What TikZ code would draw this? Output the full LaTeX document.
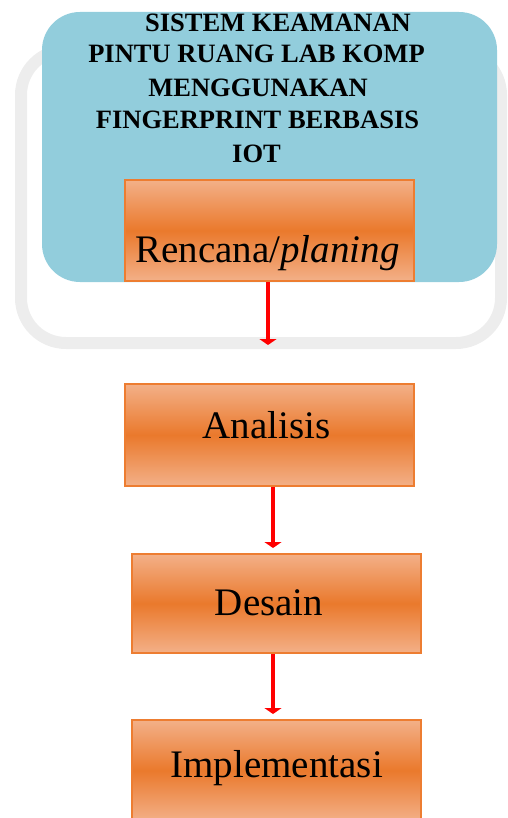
\documentclass[tikz,border=0pt]{standalone}
\usepackage{fontspec}
\setmainfont{Liberation Serif}
\usetikzlibrary{arrows.meta}
\definecolor{bluebg}{HTML}{92CDDC}
\definecolor{greyframe}{HTML}{EDEDED}
\definecolor{orlight}{HTML}{F3B088}
\definecolor{ordark}{HTML}{EA792C}
\definecolor{orborder}{HTML}{ED7D31}
\tikzset{
  stepbox/.style={rectangle, draw=orborder, line width=2pt, top color=orlight, bottom color=orlight, middle color=ordark, inner sep=0pt},
  lbl/.style={anchor=base, inner sep=0pt, font=\fontsize{39}{44}\selectfont},
  ttl/.style={anchor=base, inner sep=0pt, font=\bfseries\fontsize{26.5}{30}\selectfont},
  arr/.style={draw=red, line width=4pt, -{Triangle[width=17pt,length=6pt]}}
}
\begin{document}
\begin{tikzpicture}[x=1pt,y=-1pt]
\useasboundingbox (0,0) rectangle (507,818);
\clip (0,0) rectangle (507,818);
% grey frame
\draw[greyframe, line width=12pt, rounded corners=45pt] (21,50) rectangle (501,343);
% blue panel
\fill[bluebg, rounded corners=38pt] (42,12) rectangle (497,282);
% title
\node[ttl] (t1) at (278,32) {SISTEM KEAMANAN};
\node[ttl] (t2) at (256.5,63) {PINTU RUANG LAB KOMP};
\node[ttl] (t3) at (258,97) {MENGGUNAKAN};
\node[ttl] (t4) at (257.5,129) {FINGERPRINT BERBASIS};
\node[ttl] (t5) at (256.5,163) {IOT};
% boxes
\node[stepbox, minimum width=289pt, minimum height=101pt] (rencana) at (269.5,230.5) {};
\node[stepbox, minimum width=289pt, minimum height=102pt] (analisis) at (269.5,435) {};
\node[stepbox, minimum width=289pt, minimum height=99pt] (desain) at (276.5,603.5) {};
\node[stepbox, minimum width=289pt, minimum height=101pt] (impl) at (276.5,770.5) {};
% labels
\node[lbl] (lr) at (267.5,262) {Rencana/\textit{planing}};
\node[lbl] (la) at (266.7,438) {Analisis};
\node[lbl] (ld) at (269,615) {Desain};
\node[lbl] (li) at (276.7,777) {Implementasi};
% arrows
\coordinate (e1) at (268,345);
\draw[arr] ([xshift=-1.5pt]rencana.south) -- (e1);
\draw[arr, shorten >=5pt] ([xshift=3.5pt]analisis.south) -- ([xshift=-3.5pt]desain.north);
\draw[arr, shorten >=5pt] ([xshift=-3.5pt]desain.south) -- ([xshift=-3.5pt]impl.north);
\end{tikzpicture}
\end{document}
